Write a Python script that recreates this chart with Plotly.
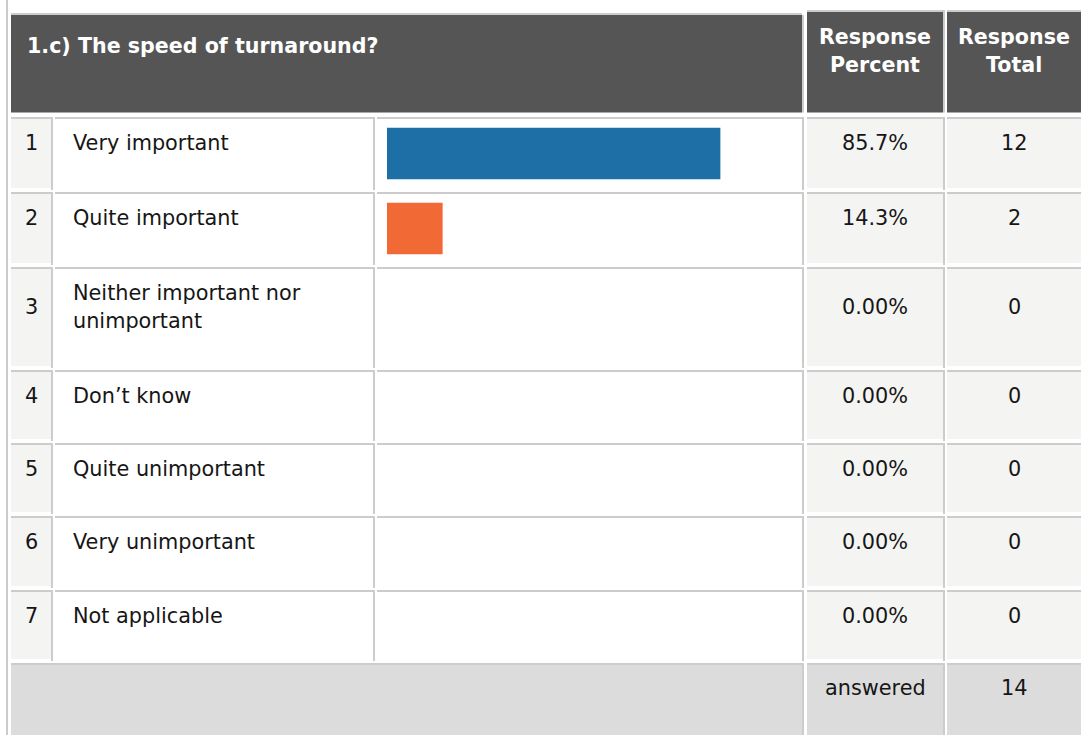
import textwrap
import plotly.graph_objects as go

# ---- data ----
question = "1.c) The speed of turnaround?"
categories = [
    "Very important",
    "Quite important",
    "Neither important nor unimportant",
    "Don\u2019t know",
    "Quite unimportant",
    "Very unimportant",
    "Not applicable",
]
response_percent = [85.7, 14.3, 0.0, 0.0, 0.0, 0.0, 0.0]
response_total = [12, 2, 0, 0, 0, 0, 0]
answered = 14
bar_colors = ["#1d6fa5", "#f16a35", "#1d6fa5", "#1d6fa5", "#1d6fa5", "#1d6fa5", "#1d6fa5"]

# ---- layout constants (pixel space) ----
W, H = 1081, 735
FONT = "DejaVu Sans"
FS = 20.8
FS_HEAD = 20.6
TEXT = "#161616"
HEADER_BG = "#555555"
BORDER = "#cccccc"
LIGHT = "#f4f4f2"
FOOT = "#dcdcdc"

# columns: (fill left, fill right)
COL_NUM = (11, 51)
COL_LAB = (55, 373)
COL_BAR = (377, 802)
COL_PCT = (807, 943)
COL_TOT = (947, 1081)
BAR_X0, BAR_X1 = 387, 776          # 0..100 % span of the bar scale

row_lines = [117, 192, 267, 370, 443, 516, 590, 663]   # top border of each row + footer
FOOT_BOTTOM = 735

shapes = []


def rect(x0, x1, y0, y1, color):
    shapes.append(dict(type="rect", xref="x", yref="y", x0=x0, x1=x1, y0=y0, y1=y1,
                       fillcolor=color, line=dict(width=0), layer="below"))


def cell(col, top, bottom, color, fill_bottom=None):
    x0, x1 = col
    fb = bottom - 4 if fill_bottom is None else fill_bottom
    rect(x0, x1, top + 2, fb, color)          # fill
    rect(x0, x1, top, top + 2, BORDER)        # top border
    rect(x1, x1 + 2, top, bottom - 2, BORDER)  # right border


# outer left border
rect(6, 8, 0, H, BORDER)

# header cells
rect(11, 802, 13, 15, BORDER)
rect(11, 802, 15, 112.5, HEADER_BG)
rect(802, 804, 15, 112.5, BORDER)
rect(807, 943, 10, 12, BORDER)
rect(807, 943, 12, 112.5, HEADER_BG)
rect(943, 945, 10, 112.5, BORDER)
rect(947, 1081, 10, 12, BORDER)
rect(947, 1081, 12, 112.5, HEADER_BG)

# body rows
for i in range(len(categories)):
    top, bottom = row_lines[i], row_lines[i + 1]
    cell(COL_NUM, top, bottom, LIGHT)
    cell(COL_LAB, top, bottom, "#ffffff")
    cell(COL_BAR, top, bottom, "#ffffff")
    cell(COL_PCT, top, bottom, LIGHT)
    cell(COL_TOT, top, bottom, LIGHT)

# footer row
ft = row_lines[-1]
rect(11, 802, ft, ft + 2, BORDER)
rect(11, 802, ft + 2, FOOT_BOTTOM, FOOT)
rect(802, 804, ft, FOOT_BOTTOM, BORDER)
cell(COL_PCT, ft, FOOT_BOTTOM + 4, FOOT)
cell(COL_TOT, ft, FOOT_BOTTOM + 4, FOOT)

annotations = []


def label(x, y, text, anchor="center", bold=False, color=TEXT, size=FS):
    annotations.append(dict(
        xref="x", yref="y", x=x, y=y, text=f"<b>{text}</b>" if bold else text,
        showarrow=False, xanchor=anchor, yanchor="middle",
        font=dict(family=FONT, size=size, color=color)))


# header texts
label(25, 46, question, anchor="left", bold=True, color="#ffffff", size=FS_HEAD)
pct_c = (COL_PCT[0] + COL_PCT[1]) / 2
tot_c = (COL_TOT[0] + COL_TOT[1]) / 2
label(pct_c, 37, "Response", bold=True, color="#ffffff", size=FS_HEAD)
label(pct_c, 65, "Percent", bold=True, color="#ffffff", size=FS_HEAD)
label(tot_c, 37, "Response", bold=True, color="#ffffff", size=FS_HEAD)
label(tot_c, 65, "Total", bold=True, color="#ffffff", size=FS_HEAD)

LINE_GAP = 28
num_c = (COL_NUM[0] + COL_NUM[1]) / 2
for i, (cat, pct, tot) in enumerate(zip(categories, response_percent, response_total)):
    top = row_lines[i]
    lines = textwrap.wrap(cat, width=24)
    first = top + 25.5
    mid = first + (len(lines) - 1) * LINE_GAP / 2
    for k, ln in enumerate(lines):
        label(71, first + k * LINE_GAP, ln, anchor="left")
    label(num_c, mid, str(i + 1))
    label(pct_c, mid, f"{pct:.1f}%" if pct else "0.00%")
    label(tot_c, mid, str(tot))

label(pct_c, ft + 25, "answered")
label(tot_c, ft + 25, str(answered))

# horizontal bars on their own percentage axis
bar_y = [row_lines[i] + 36.5 for i in range(len(categories))]
fig = go.Figure(go.Bar(
    x=response_percent, y=bar_y, orientation="h", width=51.5,
    marker=dict(color=bar_colors, line=dict(width=0)),
    xaxis="x2", yaxis="y", hoverinfo="skip",
))

fig.update_layout(
    width=W, height=H,
    margin=dict(l=0, r=0, t=0, b=0),
    paper_bgcolor="#ffffff", plot_bgcolor="rgba(0,0,0,0)",
    showlegend=False,
    xaxis=dict(range=[0, W], domain=[0, 1], visible=False, fixedrange=True),
    xaxis2=dict(range=[0, 100], domain=[BAR_X0 / W, BAR_X1 / W], anchor="y",
                visible=False, fixedrange=True),
    yaxis=dict(range=[H, 0], domain=[0, 1], visible=False, fixedrange=True),
    shapes=shapes,
    annotations=annotations,
)

fig.write_html("out.html")
